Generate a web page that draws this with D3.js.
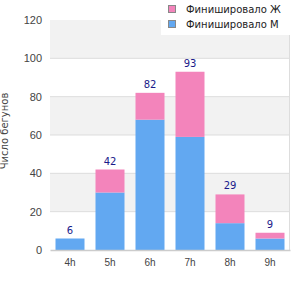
<!DOCTYPE html>
<html>
<head>
<meta charset="utf-8">
<script src="https://cdn.jsdelivr.net/npm/d3@7"></script>
<style>
  body { margin: 0; background: #fff; }
  svg { font-family: "DejaVu Sans", sans-serif; }
</style>
</head>
<body>
<div id="chart"></div>
<script>
'use strict';

const categories = ['4h', '5h', '6h', '7h', '8h', '9h'];
const finishedM = [6, 30, 68, 59, 14, 6];
const finishedF = [0, 12, 14, 34, 15, 3];
const yTicks = [0, 20, 40, 60, 80, 100, 120];
const seriesNames = ['Финишировало Ж', 'Финишировало М'];

const width = 300, height = 300;
const margin = { top: 20, left: 50, bottom: 50, right: 10 };
const panelWidth = width - margin.left - margin.right;
const panelHeight = height - margin.top - margin.bottom;
const colorF = '#f384bb';
const colorM = '#62a8f1';

const svg = d3.select('#chart').append('svg')
  .attr('width', width)
  .attr('height', height);

const xScale = d3.scaleBand()
  .domain(categories)
  .range([0, panelWidth])
  .paddingInner(0.275)
  .paddingOuter(0.1375);

const yScale = d3.scaleLinear()
  .domain([0, 120])
  .range([panelHeight, 0]);

const chart = svg.append('g')
  .attr('transform', `translate(${margin.left}, ${margin.top})`);

// alternating bands
const bands = d3.range(0, yTicks.length - 1);
chart.selectAll('.band')
  .data(bands)
  .enter().append('rect')
  .attr('x', 0)
  .attr('width', panelWidth)
  .attr('y', i => yScale(yTicks[i + 1]))
  .attr('height', i => yScale(yTicks[i]) - yScale(yTicks[i + 1]))
  .attr('fill', i => i % 2 === 0 ? '#ffffff' : '#f2f2f2');

// grid
chart.selectAll('.grid')
  .data(yTicks.slice(1, -1))
  .enter().append('line')
  .attr('x1', 0)
  .attr('x2', panelWidth)
  .attr('y1', d => yScale(d))
  .attr('y2', d => yScale(d))
  .attr('stroke', '#dddddd');

// right border
chart.append('line')
  .attr('x1', panelWidth - 0.5).attr('x2', panelWidth - 0.5)
  .attr('y1', 0).attr('y2', panelHeight)
  .attr('stroke', '#dddddd');

const stacked = categories.map((c, i) => ({ cat: c, m: finishedM[i], f: finishedF[i] }));

chart.selectAll('.barM')
  .data(stacked)
  .enter().append('rect')
  .attr('x', d => xScale(d.cat))
  .attr('width', xScale.bandwidth())
  .attr('y', d => yScale(d.m))
  .attr('height', d => yScale(0) - yScale(d.m))
  .attr('fill', colorM);

chart.selectAll('.barF')
  .data(stacked)
  .enter().append('rect')
  .attr('x', d => xScale(d.cat))
  .attr('width', xScale.bandwidth())
  .attr('y', d => yScale(d.m + d.f))
  .attr('height', d => yScale(d.m) - yScale(d.m + d.f))
  .attr('fill', colorF);

chart.selectAll('.total')
  .data(stacked)
  .enter().append('text')
  .attr('x', d => xScale(d.cat) + xScale.bandwidth() / 2)
  .attr('y', d => yScale(d.m + d.f) - 5)
  .attr('text-anchor', 'middle')
  .attr('font-size', 10)
  .attr('fill', '#1a1a8a')
  .text(d => d.m + d.f);

const xAxis = d3.axisBottom(xScale).tickSize(0).tickPadding(9);
const gx = chart.append('g')
  .attr('transform', `translate(0, ${panelHeight})`)
  .call(xAxis);
gx.select('.domain').attr('stroke', '#cccccc').attr('stroke-width', 1.5);
gx.selectAll('text').attr('font-size', 10).attr('fill', '#444444');

const yAxis = d3.axisLeft(yScale).tickValues(yTicks).tickSize(0).tickPadding(8);
const gy = chart.append('g').call(yAxis);
gy.select('.domain').remove();
gy.selectAll('text').attr('font-size', 11).attr('fill', '#444444');

svg.append('text')
  .attr('transform', 'translate(8, 131) rotate(-90)')
  .attr('text-anchor', 'middle')
  .attr('font-size', 10)
  .attr('fill', '#444444')
  .text('Число бегунов');

// legend
const legend = svg.append('g');
legend.append('rect')
  .attr('x', 161).attr('y', 0)
  .attr('width', 129).attr('height', 35)
  .attr('fill', '#ffffff');
const legendColors = [colorF, colorM];
seriesNames.forEach((name, i) => {
  legend.append('rect')
    .attr('x', 168.5).attr('y', 5.5 + i * 15)
    .attr('width', 7).attr('height', 7)
    .attr('fill', legendColors[i])
    .attr('stroke', '#888888');
  legend.append('text')
    .attr('x', 186).attr('y', 13 + i * 15)
    .attr('font-size', 10)
    .attr('fill', '#222222')
    .text(name);
});
</script>
</body>
</html>
